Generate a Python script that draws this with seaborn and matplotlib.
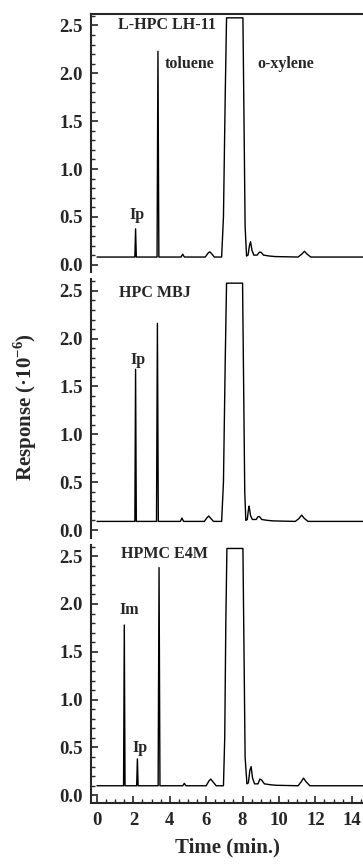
import numpy as np
import pandas as pd
import matplotlib
matplotlib.use("Agg")
import matplotlib.pyplot as plt
from matplotlib.ticker import MultipleLocator
import seaborn as sns

# chromatogram vertices (time in min, response x1e-6)
t_lh11 = [0.0, 2.08, 2.12, 2.16, 3.30, 3.35, 3.40, 4.62, 4.71, 4.80, 5.95, 6.10, 6.20, 6.32, 6.45,
          6.85, 6.95, 7.05, 7.12, 8.02, 8.08, 8.14, 8.22, 8.30, 8.38, 8.44, 8.52, 8.62, 8.80, 8.92,
          9.02, 9.15, 9.50, 9.80, 11.05, 11.25, 11.40, 11.55, 11.75, 14.7]
r_lh11 = [0.08, 0.08, 0.375, 0.08, 0.08, 2.23, 0.08, 0.08, 0.11, 0.08, 0.08, 0.12, 0.135, 0.11, 0.08,
          0.08, 0.50, 1.80, 2.58, 2.58, 1.50, 0.40, 0.09, 0.10, 0.20, 0.24, 0.15, 0.10, 0.10, 0.13,
          0.13, 0.10, 0.09, 0.085, 0.08, 0.11, 0.14, 0.11, 0.08, 0.08]

t_mbj = [0.0, 2.08, 2.12, 2.16, 3.27, 3.32, 3.37, 4.58, 4.67, 4.76, 5.90, 6.05, 6.14, 6.26, 6.40,
         6.85, 6.95, 7.05, 7.12, 8.00, 8.06, 8.12, 8.18, 8.26, 8.32, 8.36, 8.44, 8.54, 8.75, 8.85,
         8.93, 9.05, 9.40, 9.70, 10.90, 11.10, 11.25, 11.40, 11.60, 14.7]
r_mbj = [0.09, 0.09, 1.68, 0.09, 0.09, 2.16, 0.09, 0.09, 0.125, 0.09, 0.09, 0.13, 0.146, 0.12, 0.09,
         0.09, 0.50, 1.80, 2.58, 2.58, 1.50, 0.40, 0.10, 0.11, 0.21, 0.25, 0.15, 0.11, 0.11, 0.14,
         0.14, 0.11, 0.10, 0.095, 0.09, 0.12, 0.156, 0.12, 0.09, 0.09]

t_e4m = [0.0, 1.46, 1.50, 1.54, 2.18, 2.22, 2.26, 3.36, 3.41, 3.46, 4.71, 4.80, 4.89, 6.00, 6.15,
         6.25, 6.38, 6.55, 6.95, 7.02, 7.08, 7.14, 8.02, 8.08, 8.14, 8.24, 8.32, 8.40, 8.47, 8.55,
         8.66, 8.85, 8.95, 9.05, 9.20, 9.55, 9.85, 11.05, 11.22, 11.35, 11.50, 11.70, 14.7]
r_e4m = [0.10, 0.10, 1.78, 0.10, 0.10, 0.38, 0.10, 0.10, 2.38, 0.10, 0.10, 0.125, 0.10, 0.10, 0.15,
         0.17, 0.14, 0.10, 0.10, 0.60, 1.80, 2.58, 2.58, 1.50, 0.40, 0.12, 0.13, 0.26, 0.30, 0.18,
         0.12, 0.12, 0.17, 0.16, 0.12, 0.11, 0.105, 0.10, 0.14, 0.18, 0.14, 0.10, 0.10]

panel_names = ["L-HPC LH-11", "HPC MBJ", "HPMC E4M"]
name_pos = [(3.85, 2.51), (3.2, 2.48), (3.7, 2.52)]
peak_labels = [
    [("Ip", 2.2, 0.52), ("toluene", 5.1, 2.10), ("o-xylene", 10.35, 2.10)],
    [("Ip", 2.28, 1.78)],
    [("Im", 1.75, 1.94), ("Ip", 2.35, 0.49)],
]
y_ticks = [0.0, 0.5, 1.0, 1.5, 2.0, 2.5]
x_ticks = [0, 2, 4, 6, 8, 10, 12, 14]

sns.set_style("ticks")
plt.rcParams["font.family"] = ["Liberation Serif", "DejaVu Serif"]
plt.rcParams["font.weight"] = "bold"
plt.rcParams["mathtext.fontset"] = "custom"
plt.rcParams["mathtext.rm"] = "Liberation Serif:bold"
plt.rcParams["mathtext.bf"] = "Liberation Serif:bold"

fig, axes = plt.subplots(3, 1, figsize=(3.63, 8.65), dpi=100, sharex=True)
fig.subplots_adjust(left=0.2507, right=1.0, top=0.9838, bottom=0.0717, hspace=0.027)

traces = [(t_lh11, r_lh11), (t_mbj, r_mbj), (t_e4m, r_e4m)]
for i, ax in enumerate(axes):
    t, r = traces[i]
    df = pd.DataFrame({"t": t, "r": r})
    sns.lineplot(data=df, x="t", y="r", ax=ax, color="black", lw=1.0,
                 sort=False, estimator=None)
    ax.set_xlim(-0.33, 14.62)
    ax.set_ylim(-0.08, 2.62)
    ax.set_xlabel("")
    ax.set_ylabel("")
    ax.set_yticks(y_ticks)
    ax.set_yticklabels([f"{v:.1f}" for v in y_ticks], fontsize=13.5, fontweight="bold")
    ax.yaxis.set_minor_locator(MultipleLocator(0.1))
    ax.tick_params(axis="y", which="major", direction="in", length=5, width=1.2, pad=6)
    ax.tick_params(axis="y", which="minor", direction="in", length=3, width=1.0)
    ax.spines["right"].set_visible(False)
    for s in ["left", "top", "bottom"]:
        ax.spines[s].set_linewidth(1.5)
    if i > 0:
        ax.spines["top"].set_visible(False)
    if i < 2:
        ax.spines["bottom"].set_visible(False)
        ax.tick_params(axis="x", which="both", bottom=False, labelbottom=False)
    nx, ny = name_pos[i]
    ax.text(nx, ny, panel_names[i], ha="center", va="center", fontsize=11.5, fontweight="bold")
    for lab, lx, ly in peak_labels[i]:
        ax.text(lx, ly, lab, ha="center", va="center", fontsize=11.5, fontweight="bold")

ax = axes[2]
ax.set_xticks(x_ticks)
ax.set_xticklabels([str(v) for v in x_ticks], fontsize=13.5, fontweight="bold")
ax.xaxis.set_minor_locator(MultipleLocator(0.5))
ax.tick_params(axis="x", which="major", direction="in", length=5, width=1.2, pad=6.5)
ax.tick_params(axis="x", which="minor", direction="in", length=3, width=1.0)
ax.set_xlabel("Time (min.)", fontsize=15, fontweight="bold", labelpad=6)

fig.text(0.069, 0.529, r"Response (·10$^{\mathbf{-6}}$)", rotation=90, ha="center", va="center",
         fontsize=15, fontweight="bold")

fig.savefig("out.png", dpi=100)
